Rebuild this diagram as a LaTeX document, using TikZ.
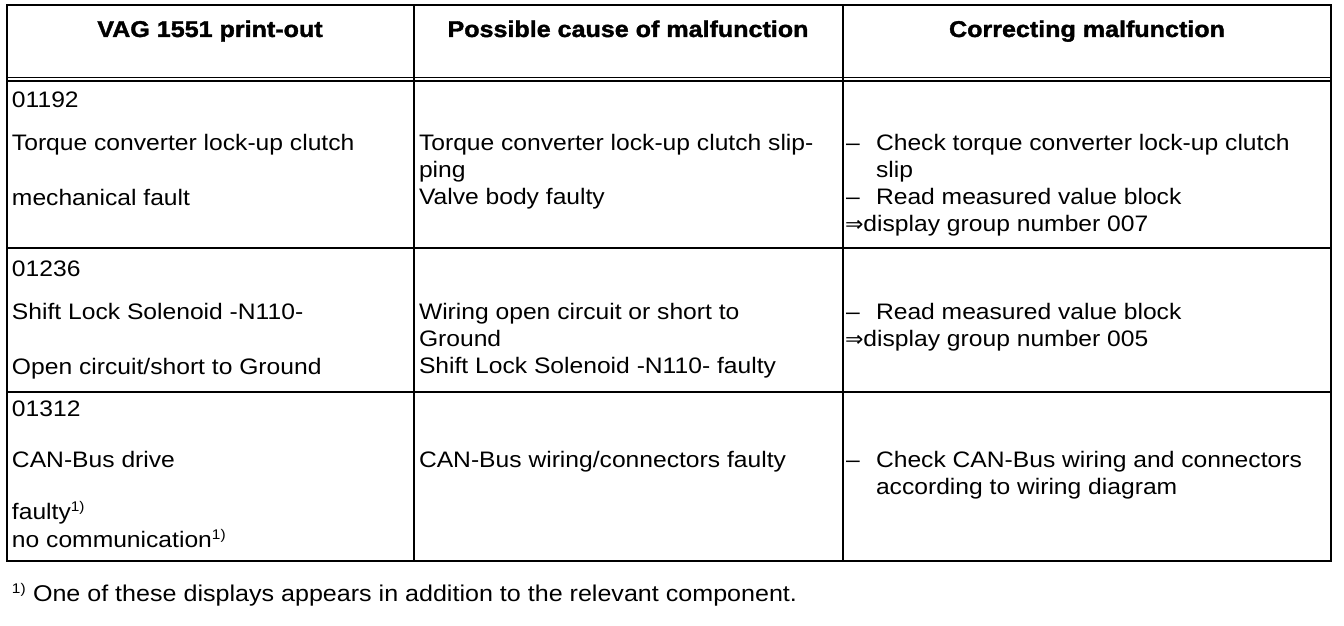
\documentclass[tikz,border=0pt]{standalone}
\usepackage{fontspec}
\setmainfont[FakeStretch=1.1,BoldFeatures={FakeBold=1.6}]{Liberation Sans}
\newfontfamily\arrowfont[FakeStretch=1.05]{DejaVu Sans}
\newcommand\bodyfs{\fontsize{22.4}{28}\selectfont}
\newcommand\headfs{\fontsize{22.8}{28}\selectfont\bfseries}
\newcommand\supone{\raisebox{8pt}{\fontsize{14}{14}\selectfont 1)}}
\newcommand\dblarrow{{\arrowfont\fontsize{21}{21}\selectfont ⇒}}
\begin{document}
\begin{tikzpicture}[x=1pt,y=-1pt,
  txt/.style={anchor=base west,inner sep=0pt,outer sep=0pt,font=\bodyfs},
  head/.style={anchor=base,inner sep=0pt,outer sep=0pt,font=\headfs},
  frame/.style={line width=2.8pt},
  rule/.style={line width=2pt},
  thinrule/.style={line width=1.6pt}]
\useasboundingbox (0,0) rectangle (1344,626);
\fill[white] (0,0) rectangle (1344,626);
% grid
\coordinate (tl) at (7,5);
\coordinate (br) at (1331,561);
\draw[frame] (tl) rectangle (br);
\draw[rule] (414,5) -- (414,561);
\draw[rule] (842.5,5) -- (842.5,561);
\draw[thinrule] (7,77.5) -- (1331,77.5);
\draw[thinrule] (7,81) -- (1331,81);
\draw[rule] (7,248) -- (1331,248);
\draw[rule] (7,392) -- (1331,392);
% header
\node[head] (h1) at (210,37) {VAG 1551 print-out};
\node[head] (h2) at (628,37) {Possible cause of malfunction};
\node[head] (h3) at (1087,37) {Correcting malfunction};
% row 1
\node[txt] (a1) at (12,107) {01192};
\node[txt] (a2) at (12,150) {Torque converter lock-up clutch};
\node[txt] (a3) at (12,205) {mechanical fault};
\node[txt] (b1) at (419,150) {Torque converter lock-up clutch slip-};
\node[txt] (b2) at (419,177) {ping};
\node[txt] (b3) at (419,204) {Valve body faulty};
\node[txt] (c1d) at (846,150) {–};
\node[txt] (c1) at (876,150) {Check torque converter lock-up clutch};
\node[txt] (c2) at (876,177) {slip};
\node[txt] (c3d) at (846,204) {–};
\node[txt] (c3) at (876,204) {Read measured value block};
\node[txt] (c4) at (845,231) {\dblarrow display group number 007};
% row 2
\node[txt] (d1) at (12,276) {01236};
\node[txt] (d2) at (12,319) {Shift Lock Solenoid -N110-};
\node[txt] (d3) at (12,374) {Open circuit/short to Ground};
\node[txt] (e1) at (419,319) {Wiring open circuit or short to};
\node[txt] (e2) at (419,346) {Ground};
\node[txt] (e3) at (419,373) {Shift Lock Solenoid -N110- faulty};
\node[txt] (f1d) at (846,319) {–};
\node[txt] (f1) at (876,319) {Read measured value block};
\node[txt] (f2) at (845,346) {\dblarrow display group number 005};
% row 3
\node[txt] (g1) at (12,416) {01312};
\node[txt] (g2) at (12,467) {CAN-Bus drive};
\node[txt] (g3) at (12,519) {faulty\supone};
\node[txt] (g4) at (12,547) {no communication\supone};
\node[txt] (k1) at (419,467) {CAN-Bus wiring/connectors faulty};
\node[txt] (m1d) at (846,467) {–};
\node[txt] (m1) at (876,467) {Check CAN-Bus wiring and connectors};
\node[txt] (m2) at (876,494) {according to wiring diagram};
% footnote
\node[txt] (fnm) at (12,601) {\supone};
\node[txt,font=\fontsize{22.8}{28}\selectfont] (fn) at (33,601) {One of these displays appears in addition to the relevant component.};
\end{tikzpicture}
\end{document}
